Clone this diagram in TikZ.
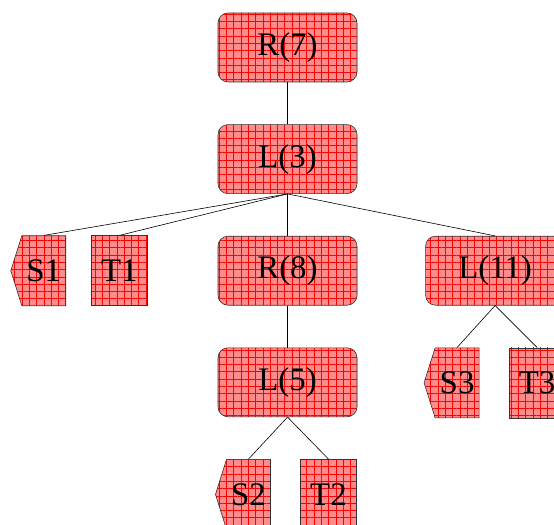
\documentclass[tikz,border=0pt]{standalone}
\usepackage{fontspec}
\setmainfont{Liberation Serif}
\usetikzlibrary{positioning,shapes.symbols,patterns.meta}
\tikzset{
  x=1bp, y=1bp,
  hatched/.style={preaction={fill=red!45}, pattern={Hatch[angle=0,distance=7.3bp,line width=0.5bp]}, pattern color=red, draw=black!80, line width=0.6bp},
  op/.style={hatched, rounded corners=10bp, minimum width=139bp, minimum height=69bp, inner sep=0pt, font=\fontsize{33}{36}\selectfont},
  tbox/.style={hatched, minimum width=56bp, minimum height=70bp, inner sep=0pt, font=\fontsize{33}{36}\selectfont},
  sbox/.style={hatched, shape=signal, signal to=west, signal pointer angle=145, minimum width=55bp, minimum height=70bp, inner sep=0pt, font=\fontsize{33}{36}\selectfont},
  edge/.style={draw=black, line width=0.6bp},
}
\begin{document}
\begin{tikzpicture}[node distance=42bp and 27bp]
  \useasboundingbox (0,0) rectangle (554,-525);
  \clip (0,0) rectangle (554,-525);
  \node[op] (r7) at (287.5,-47.5) {R(7)};
  \node[op, below=of r7] (l3) {L(3)};
  % third row
  \node[op, below=of l3] (r8) {R(8)};
  \node[tbox, left=70bp of r8] (t1) {T1};
  \node[sbox, left=25bp of t1] (s1) {S1};
  \node[op, right=68bp of r8] (l11) {L(11)};
  \node[sbox, below=of l11, xshift=-38bp] (s3) {S3};
  \node[tbox, below=of l11, xshift=42bp] (t3) {T3};
  % below R(8)
  \node[op, below=of r8] (l5) {L(5)};
  \node[sbox, below=of l5, xshift=-39bp] (s2) {S2};
  \node[tbox, below=of l5, xshift=41bp] (t2) {T2};
  \draw[edge] (r7) -- (l3);
  \draw[edge] (l3.south) -- (s1.north);
  \draw[edge] (l3.south) -- (t1.north);
  \draw[edge] (l3) -- (r8);
  \draw[edge] (l3.south) -- (l11.north);
  \draw[edge] (r8) -- (l5);
  \draw[edge] (l5.south) -- (s2.north);
  \draw[edge] (l5.south) -- (t2.north);
  \draw[edge] (l11.south) -- (s3.north);
  \draw[edge] (l11.south) -- (t3.north);
\end{tikzpicture}
\end{document}
